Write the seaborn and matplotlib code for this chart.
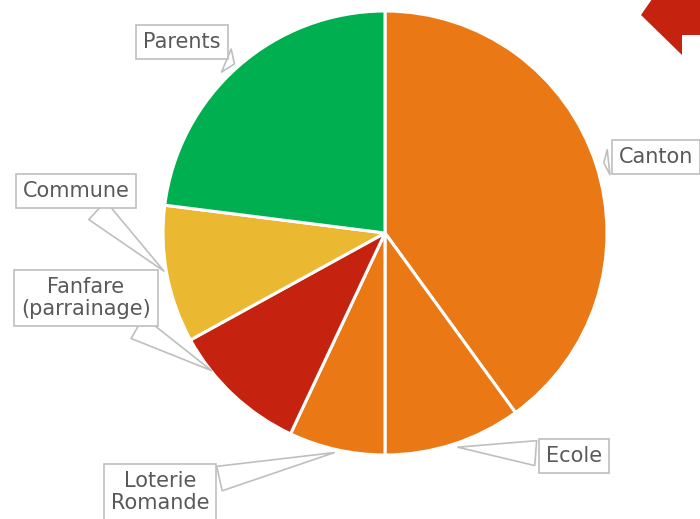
import matplotlib
matplotlib.use("Agg")
import matplotlib.pyplot as plt
import seaborn as sns
from matplotlib.patches import Polygon

sns.set_theme(style="white")
plt.rcParams['font.family'] = ['DejaVu Sans']

# Data
labels = ["Canton", "Ecole", "Loterie\nRomande", "Fanfare\n(parrainage)", "Commune", "Parents"]
values = [40, 10, 7, 10, 10, 23]
colors = ["#EA7814", "#EA7814", "#EA7814", "#C5220F", "#EBB931", "#00B050"]

# label box centres and pointer tips (pixels, from top-left)
label_px = [(656, 157), (574, 456), (160, 492), (86, 298), (76, 191), (182, 42)]
tip_px = [(601, 163), (455, 447), (337, 452), (214, 372), (166, 273), (237, 65)]

W, H = 700, 519
cx, cy, r = 385, 233, 222

fig = plt.figure(figsize=(W / 100, H / 100), dpi=100)
ax = fig.add_axes([(cx - r) / W, (H - cy - r) / H, 2 * r / W, 2 * r / H])
ax.pie(values, colors=colors, startangle=90, counterclock=False,
       wedgeprops=dict(edgecolor="white", linewidth=2.2))
ax.set_xlim(-1, 1)
ax.set_ylim(-1, 1)
ax.axis("off")


def to_data(p):
    return ((p[0] - cx) / r, (cy - p[1]) / r)


for lab, lp, tp in zip(labels, label_px, tip_px):
    ax.annotate(lab, xy=to_data(tp), xytext=to_data(lp),
                ha="center", va="center", fontsize=15, color="#595959",
                linespacing=1.1, annotation_clip=False,
                bbox=dict(boxstyle="square,pad=0.33", fc="white", ec="#BFBFBF", lw=1.2),
                arrowprops=dict(arrowstyle="wedge,tail_width=1.2,shrink_factor=0.5",
                                fc="white", ec="#BFBFBF", lw=1.2))

# red arrow in the corner
arrow = Polygon([(641 / W, 1 - 15 / H), (655 / W, 1.01), (1.01, 1.01), (1.01, 1 - 35 / H),
                 (682 / W, 1 - 35 / H), (682 / W, 1 - 55 / H)],
                closed=True, transform=fig.transFigure, fc="#C5220F", ec="none")
fig.patches.append(arrow)

plt.savefig("out.png", dpi=100)
plt.close()
